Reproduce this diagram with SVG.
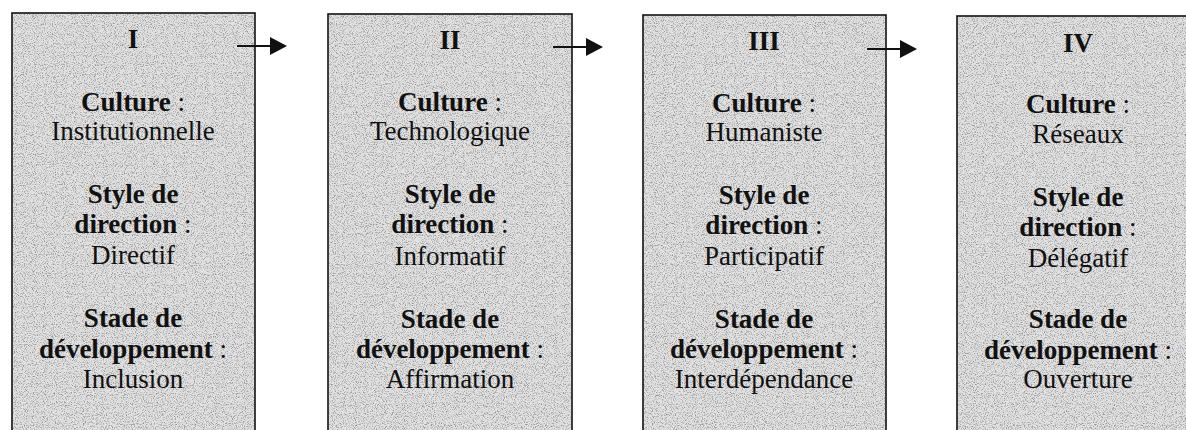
<svg xmlns="http://www.w3.org/2000/svg" width="1186" height="430" viewBox="0 0 1186 430">
<style>
.box{fill:#e2e2e2;stroke:#111;stroke-width:1.6}
.grain{fill:#000}
text{font-family:"Liberation Serif","Times New Roman",serif;font-size:27px;fill:#111;text-anchor:middle}
.b{font-weight:bold}
.conn line{stroke:#111;stroke-width:2.2}
</style>
<defs>
<filter id="noise" x="0" y="0" width="100%" height="100%">
<feTurbulence type="fractalNoise" baseFrequency="0.9" numOctaves="2" seed="7" result="n"/>
<feColorMatrix in="n" type="matrix" values="0 0 0 0 0  0 0 0 0 0  0 0 0 0 0  3.2 0 0 0 -1.5" result="d"/>
<feComposite in="d" in2="SourceGraphic" operator="in"/>
</filter>
<marker id="ah" viewBox="0 0 17 18" refX="10" refY="9" markerWidth="17" markerHeight="18" markerUnits="userSpaceOnUse" orient="auto">
<path d="M0,0 L17,9 L0,18 z" fill="#111"/>
</marker>
</defs>
<rect width="1186" height="430" fill="#fff"/>
<g id="node1">
<rect class="box" x="12" y="13" width="243" height="430"/>
<rect class="grain" x="13" y="14" width="241" height="420" filter="url(#noise)" opacity="0.35"/>
<text x="133" y="48" class="b">I</text>
<text x="133" y="111"><tspan class="b">Culture</tspan> :</text>
<text x="133" y="140">Institutionnelle</text>
<text x="133" y="203" class="b">Style de</text>
<text x="133" y="233"><tspan class="b">direction</tspan> :</text>
<text x="133" y="264">Directif</text>
<text x="133" y="327" class="b">Stade de</text>
<text x="133" y="358"><tspan class="b">développement</tspan> :</text>
<text x="133" y="388">Inclusion</text>
</g>
<g id="node2">
<rect class="box" x="328" y="14" width="244" height="430"/>
<rect class="grain" x="329" y="15" width="242" height="420" filter="url(#noise)" opacity="0.35"/>
<text x="450" y="49" class="b">II</text>
<text x="450" y="111"><tspan class="b">Culture</tspan> :</text>
<text x="450" y="140">Technologique</text>
<text x="450" y="203" class="b">Style de</text>
<text x="450" y="233"><tspan class="b">direction</tspan> :</text>
<text x="450" y="265">Informatif</text>
<text x="450" y="328" class="b">Stade de</text>
<text x="450" y="358"><tspan class="b">développement</tspan> :</text>
<text x="450" y="388">Affirmation</text>
</g>
<g id="node3">
<rect class="box" x="643" y="15" width="243" height="430"/>
<rect class="grain" x="644" y="16" width="241" height="420" filter="url(#noise)" opacity="0.35"/>
<text x="764" y="50" class="b">III</text>
<text x="764" y="112"><tspan class="b">Culture</tspan> :</text>
<text x="764" y="141">Humaniste</text>
<text x="764" y="204" class="b">Style de</text>
<text x="764" y="234"><tspan class="b">direction</tspan> :</text>
<text x="764" y="265">Participatif</text>
<text x="764" y="328" class="b">Stade de</text>
<text x="764" y="358"><tspan class="b">développement</tspan> :</text>
<text x="764" y="388">Interdépendance</text>
</g>
<g id="node4">
<rect class="box" x="957" y="16" width="243" height="430"/>
<rect class="grain" x="958" y="17" width="241" height="420" filter="url(#noise)" opacity="0.35"/>
<text x="1078" y="52" class="b">IV</text>
<text x="1078" y="113"><tspan class="b">Culture</tspan> :</text>
<text x="1078" y="143">Réseaux</text>
<text x="1078" y="206" class="b">Style de</text>
<text x="1078" y="236"><tspan class="b">direction</tspan> :</text>
<text x="1078" y="267">Délégatif</text>
<text x="1078" y="328" class="b">Stade de</text>
<text x="1078" y="359"><tspan class="b">développement</tspan> :</text>
<text x="1078" y="388">Ouverture</text>
</g>
<g id="connectors" class="conn">
<line x1="237" y1="46" x2="280" y2="46" marker-end="url(#ah)"/>
<line x1="553" y1="47" x2="596" y2="47" marker-end="url(#ah)"/>
<line x1="867" y1="49" x2="910" y2="49" marker-end="url(#ah)"/>
</g>
</svg>
